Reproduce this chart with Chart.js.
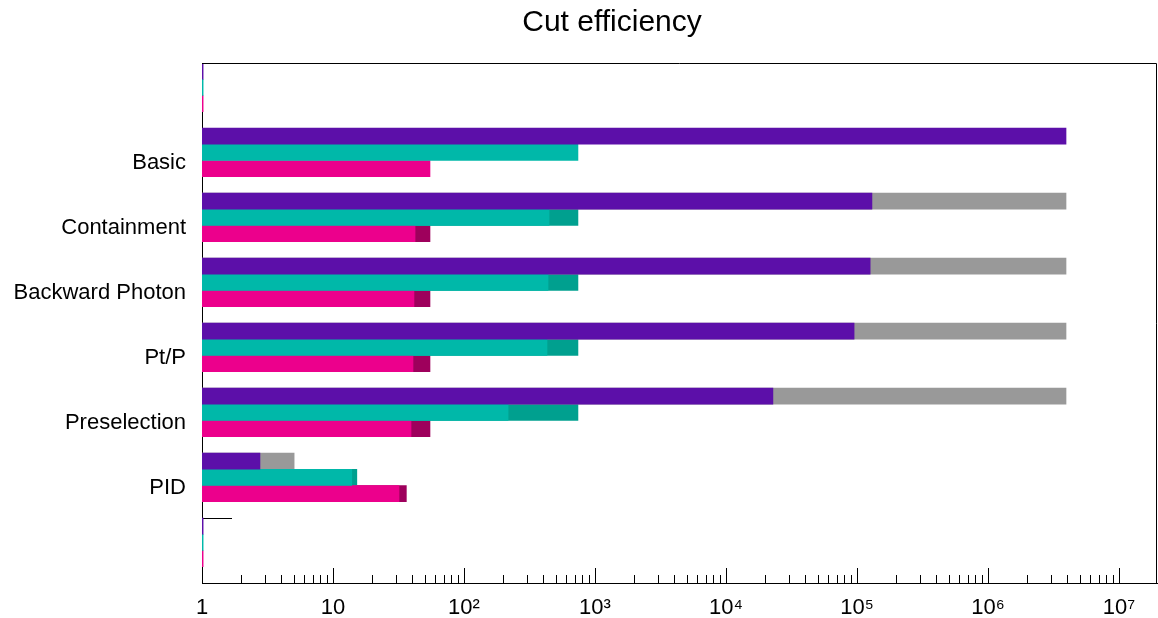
<!DOCTYPE html>
<html>
<head>
<meta charset="utf-8">
<title>Cut efficiency</title>
<script src="https://cdn.jsdelivr.net/npm/chart.js@4/dist/chart.umd.min.js"></script>
<style>
  body { margin: 0; background: #ffffff; }
  canvas { display: block; }
</style>
</head>
<body>
<canvas id="myChart" width="1158" height="618"></canvas>
<script>
// categories, top to bottom
const categories = ["", "Basic", "Containment", "Backward Photon", "Pt/P", "Preselection", "PID", ""]

// events after each cut (front bars)
const purpleValues = [1.02, 3.94e6, 1.30e5, 1.26e5, 9.5e4, 2.28e4, 2.77, 1.02]
const tealValues = [1.02, 741, 446, 438, 430, 217, 13.9, 1.02]
const pinkValues = [1.02, 55, 42.3, 41.5, 40.8, 39.4, 31.9, 1.02]

// reference counts drawn behind (grey / darker parts)
const purpleRef = [null, null, 3.94e6, 3.94e6, 3.94e6, 3.94e6, 5.05, null]
const tealRef = [null, null, 741, 741, 741, 741, 15.2, null]
const pinkRef = [null, null, 55, 55, 55, 55, 36.3, null]

const spacer = [null, null, null, null, null, null, null, null]

const xMin = 1
const xMax = 1.95e7
const titleText = "Cut efficiency"

const colors = ["#5c0fa9", "#00b8a9", "#ec008c"]
const refColors = ["#999999", "#00a08f", "#9e005c"]

const superDigits = {"0": "\u2070", "1": "\u00b9", "2": "\u00b2", "3": "\u00b3", "4": "\u2074", "5": "\u2075", "6": "\u2076", "7": "\u2077", "8": "\u2078", "9": "\u2079"}

function isDecade(value)
{
    let e = Math.log10(value);
    return Math.abs(e - Math.round(e)) < 1e-9;
}

function isMinorStep(value)
{
    let m = value / Math.pow(10, Math.floor(Math.log10(value) + 1e-9));
    return Math.abs(m - Math.round(m)) < 1e-6;
}

function decadeLabel(value)
{
    let e = Math.round(Math.log10(value));
    if (e === 0) return "1";
    if (e === 1) return "10";
    return "10" + String(e).split("").map(d => superDigits[d]).join("");
}

// frame, inward ticks and title
const framePlugin = {
    id: "frame",
    beforeDatasetsDraw(chart) {
        const ctx = chart.ctx;
        const area = chart.chartArea;
        const n = categories.length;
        const step = (area.bottom - area.top) / n;
        ctx.save();
        ctx.strokeStyle = "#000000";
        ctx.lineWidth = 1;
        ctx.beginPath();
        for (let i = 0; i <= n; i++) {
            let y = Math.round(area.top + i * step) + 0.5;
            ctx.moveTo(area.left, y);
            ctx.lineTo(area.left + 30, y);
        }
        ctx.stroke();
        ctx.restore();
    },
    afterDraw(chart) {
        const ctx = chart.ctx;
        const area = chart.chartArea;
        const xScale = chart.scales.x;
        ctx.save();
        ctx.strokeStyle = "#000000";
        ctx.lineWidth = 1;
        ctx.beginPath();
        // top and right edges of the frame
        ctx.moveTo(area.left, area.top + 0.5);
        ctx.lineTo(area.right - 0.5, area.top + 0.5);
        ctx.lineTo(area.right - 0.5, area.bottom);
        // x ticks pointing up into the plot
        xScale.ticks.forEach(t => {
            if (t.value >= xMax || !isMinorStep(t.value)) return;
            let x = Math.round(xScale.getPixelForValue(t.value)) + 0.5;
            let len = isDecade(t.value) ? 15 : 8;
            ctx.moveTo(x, area.bottom);
            ctx.lineTo(x, area.bottom - len);
        });
        ctx.stroke();

        ctx.fillStyle = "#000000";
        ctx.font = '30px "Liberation Sans", Arial, sans-serif';
        ctx.textAlign = "center";
        ctx.textBaseline = "alphabetic";
        ctx.fillText(titleText, 612, 31);
        ctx.restore();
    }
}

function makeDataset(label, data, color, stack)
{
    return {
        label: label,
        data: data,
        backgroundColor: color,
        borderWidth: 0,
        stack: stack,
        categoryPercentage: 1.0,
        barPercentage: 1.0
    }
}

function drawChart()
{
    // first datasets are drawn on top
    let datasets = [
        makeDataset("Sample 1", purpleValues, colors[0], "a"),
        makeDataset("Sample 2", tealValues, colors[1], "b"),
        makeDataset("Sample 3", pinkValues, colors[2], "c"),
        makeDataset("Sample 1 reference", purpleRef, refColors[0], "a"),
        makeDataset("Sample 2 reference", tealRef, refColors[1], "b"),
        makeDataset("Sample 3 reference", pinkRef, refColors[2], "c"),
        makeDataset("", spacer, "rgba(0,0,0,0)", "d")
    ]

    new Chart("myChart", {
        type: "bar",
        data: {
            labels: categories,
            datasets: datasets
        },
        options: {
            indexAxis: "y",
            responsive: false,
            animation: false,
            devicePixelRatio: 1,
            layout: {
                padding: {top: 63, right: 1, bottom: 1, left: 0}
            },
            plugins: {
                legend: {display: false},
                title: {display: false},
                tooltip: {enabled: false}
            },
            scales: {
                x: {
                    type: "logarithmic",
                    min: xMin,
                    max: xMax,
                    stacked: false,
                    grid: {display: false, drawTicks: false},
                    border: {display: true, color: "#000000", width: 1},
                    afterFit: (scale) => {
                        scale.height = 34;
                        scale.paddingLeft = 0;
                        scale.paddingRight = 0;
                    },
                    ticks: {
                        autoSkip: false,
                        maxRotation: 0,
                        padding: 14,
                        color: "#000000",
                        font: {family: '"Liberation Sans", Arial, sans-serif', size: 22, lineHeight: 1},
                        callback: (value) => (isDecade(value) && value < xMax) ? decadeLabel(value) : ""
                    }
                },
                y: {
                    stacked: true,
                    grid: {display: false, drawTicks: false},
                    border: {display: true, color: "#000000", width: 1},
                    afterFit: (scale) => {
                        scale.width = 202;
                        scale.paddingTop = 0;
                        scale.paddingBottom = 0;
                    },
                    ticks: {
                        padding: 16,
                        labelOffset: 2,
                        color: "#000000",
                        font: {family: '"Liberation Sans", Arial, sans-serif', size: 22, lineHeight: 1}
                    }
                }
            }
        },
        plugins: [framePlugin]
    })
}

drawChart();
</script>
</body>
</html>
